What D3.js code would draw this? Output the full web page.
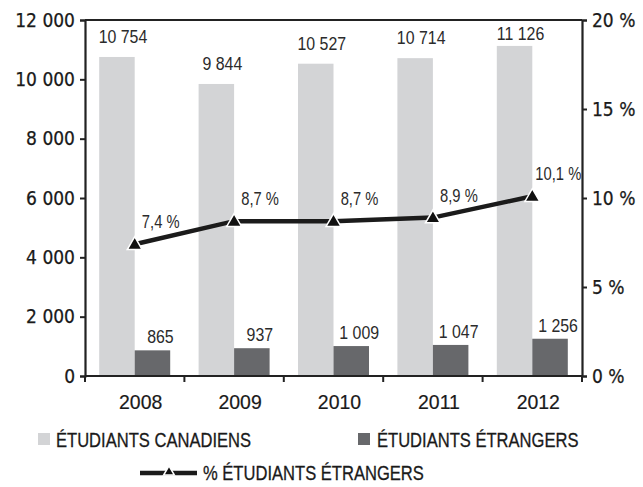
<!DOCTYPE html>
<html>
<head>
<meta charset="utf-8">
<script src="https://cdn.jsdelivr.net/npm/d3@7"></script>
<style>
  html, body { margin: 0; padding: 0; background: #fff; }
  svg { display: block; }
</style>
</head>
<body>
<svg id="chart" width="643" height="487"></svg>
<script>
// Enrolment data, 2008–2012
const years = ["2008", "2009", "2010", "2011", "2012"];
const canadiens = [10754, 9844, 10527, 10714, 11126];
const etrangers = [865, 937, 1009, 1047, 1256];
const pctEtrangers = [7.4, 8.7, 8.7, 8.9, 10.1];
const leftTicks = [0, 2000, 4000, 6000, 8000, 10000, 12000];
const rightTicks = [0, 5, 10, 15, 20];

const colLight = "#d3d4d6";
const colDark = "#67686b";
const colLine = "#1b1b1b";
const tickFont = "'DejaVu Sans Condensed', 'DejaVu Sans', sans-serif";
const bodyFont = "'Liberation Sans', Arial, sans-serif";

const svg = d3.select("#chart");
const m = { left: 85, right: 582, top: 20, bottom: 376 };

const x = d3.scaleBand().domain(years).range([m.left, m.right]).paddingInner(0).paddingOuter(0);
const yL = d3.scaleLinear().domain([0, 12000]).range([m.bottom, m.top]);
const yR = d3.scaleLinear().domain([0, 20]).range([m.bottom, m.top]);
const barW = 35.5;

const fmt = v => d3.format(",")(v).replace(/,/g, " ");
const fmtPct = v => d3.format(".1f")(v).replace(".", ",") + " %";

// Horizontally condensed text placed at (px, py)
function condensedText(sel, px, py, sx) {
  return sel.attr("x", 0).attr("y", 0)
    .attr("transform", (d, i) => `translate(${px(d, i)},${py(d, i)}) scale(${sx},1)`);
}

// Bars
const g = svg.append("g");
g.selectAll("rect.can").data(years).join("rect")
  .attr("x", d => x(d) + x.bandwidth() / 2 - barW)
  .attr("y", (d, i) => yL(canadiens[i]))
  .attr("width", barW)
  .attr("height", (d, i) => yL(0) - yL(canadiens[i]))
  .attr("fill", colLight);
g.selectAll("rect.etr").data(years).join("rect")
  .attr("x", d => x(d) + x.bandwidth() / 2)
  .attr("y", (d, i) => yL(etrangers[i]))
  .attr("width", barW)
  .attr("height", (d, i) => yL(0) - yL(etrangers[i]))
  .attr("fill", colDark);

// Bar value labels
condensedText(
  g.selectAll("text.can").data(years).join("text")
    .attr("text-anchor", "middle")
    .attr("font-family", bodyFont).attr("font-size", 18.5).attr("fill", "#2b2b2b")
    .text((d, i) => fmt(canadiens[i])),
  d => x(d) + x.bandwidth() / 2 - barW / 2 + 6,
  (d, i) => Math.max(yL(canadiens[i]) - 14, 40), 0.86);
condensedText(
  g.selectAll("text.etr").data(years).join("text")
    .attr("text-anchor", "middle")
    .attr("font-family", bodyFont).attr("font-size", 18.5).attr("fill", "#2b2b2b")
    .text((d, i) => fmt(etrangers[i])),
  d => x(d) + x.bandwidth() / 2 + barW / 2 + 8,
  (d, i) => yL(etrangers[i]) - 7, 0.86);

// Top frame line
svg.append("line").attr("x1", m.left).attr("x2", m.right).attr("y1", m.top).attr("y2", m.top)
  .attr("stroke", "#222").attr("stroke-width", 2);

// Left axis
const axL = svg.append("g").attr("transform", `translate(${m.left},0)`)
  .call(d3.axisLeft(yL).tickValues(leftTicks).tickSize(5).tickPadding(5).tickFormat(fmt));
// Right axis
const axR = svg.append("g").attr("transform", `translate(${m.right},0)`)
  .call(d3.axisRight(yR).tickValues(rightTicks).tickSize(5).tickPadding(5).tickFormat(v => v + " %"));
[axL, axR].forEach(a => {
  a.select(".domain").attr("stroke", "#222").attr("stroke-width", 2.2);
  a.selectAll(".tick line").attr("stroke", "#222").attr("stroke-width", 2);
  a.selectAll(".tick text").attr("font-family", tickFont).attr("font-size", 19).attr("fill", "#1a1a1a")
    .attr("stroke", "#1a1a1a").attr("stroke-width", 0.25);
});

// Bottom axis: ticks at category boundaries, labels centred
const bx = svg.append("g").attr("transform", `translate(0,${m.bottom})`);
bx.append("line").attr("x1", m.left).attr("x2", m.right).attr("stroke", "#222").attr("stroke-width", 2.2);
const bounds = years.map(d => x(d)).concat([m.right]);
bx.selectAll("line.t").data(bounds).join("line")
  .attr("x1", d => d).attr("x2", d => d).attr("y1", 0).attr("y2", 6)
  .attr("stroke", "#222").attr("stroke-width", 2);
condensedText(
  bx.selectAll("text").data(years).join("text")
    .attr("text-anchor", "middle")
    .attr("font-family", bodyFont).attr("font-size", 20.5).attr("fill", "#1a1a1a")
    .attr("stroke", "#1a1a1a").attr("stroke-width", 0.2)
    .text(d => d),
  d => x(d) + x.bandwidth() / 2 + 6, () => 33, 0.95);

// Percentage line with triangle markers
const cx = d => x(d) + x.bandwidth() / 2;
const line = d3.line().x((d, i) => cx(years[i])).y(d => yR(d));
svg.append("path").datum(pctEtrangers)
  .attr("d", line).attr("fill", "none").attr("stroke", colLine).attr("stroke-width", 4.5);
const tri = d3.symbol().type(d3.symbolTriangle).size(95);
svg.selectAll("path.mk").data(pctEtrangers).join("path")
  .attr("transform", (d, i) => `translate(${cx(years[i])},${yR(d) + 1})`)
  .attr("d", tri).attr("fill", "#111").attr("stroke", "#fff").attr("stroke-width", 1.5);
condensedText(
  svg.selectAll("text.pct").data(pctEtrangers).join("text")
    .attr("text-anchor", "middle")
    .attr("font-family", bodyFont).attr("font-size", 18).attr("fill", "#2b2b2b")
    .text(d => fmtPct(d)),
  (d, i) => cx(years[i]) + 26, d => yR(d) - 16, 0.82);

// Legend
const leg = svg.append("g").attr("font-family", bodyFont).attr("font-size", 20.2).attr("fill", "#1a1a1a");
const legSx = 0.82;
leg.append("rect").attr("x", 38).attr("y", 433).attr("width", 12).attr("height", 12).attr("fill", colLight);
leg.append("rect").attr("x", 358).attr("y", 433).attr("width", 12).attr("height", 12).attr("fill", colDark);
leg.append("line").attr("x1", 140).attr("x2", 197).attr("y1", 473).attr("y2", 473)
  .attr("stroke", colLine).attr("stroke-width", 4.7);
leg.append("path").attr("transform", "translate(169,472)")
  .attr("d", d3.symbol().type(d3.symbolTriangle).size(50))
  .attr("fill", "#111").attr("stroke", "#fff").attr("stroke-width", 1.5);
const legText = leg.append("g").attr("stroke", "#1a1a1a").attr("stroke-width", 0.3);
legText.append("text").attr("transform", `translate(56,447) scale(${legSx},1)`).text("ÉTUDIANTS CANADIENS");
legText.append("text").attr("transform", `translate(377,447) scale(${legSx},1)`).text("ÉTUDIANTS ÉTRANGERS");
legText.append("text").attr("transform", `translate(203,480) scale(${legSx},1)`).text("% ÉTUDIANTS ÉTRANGERS");
</script>
</body>
</html>
